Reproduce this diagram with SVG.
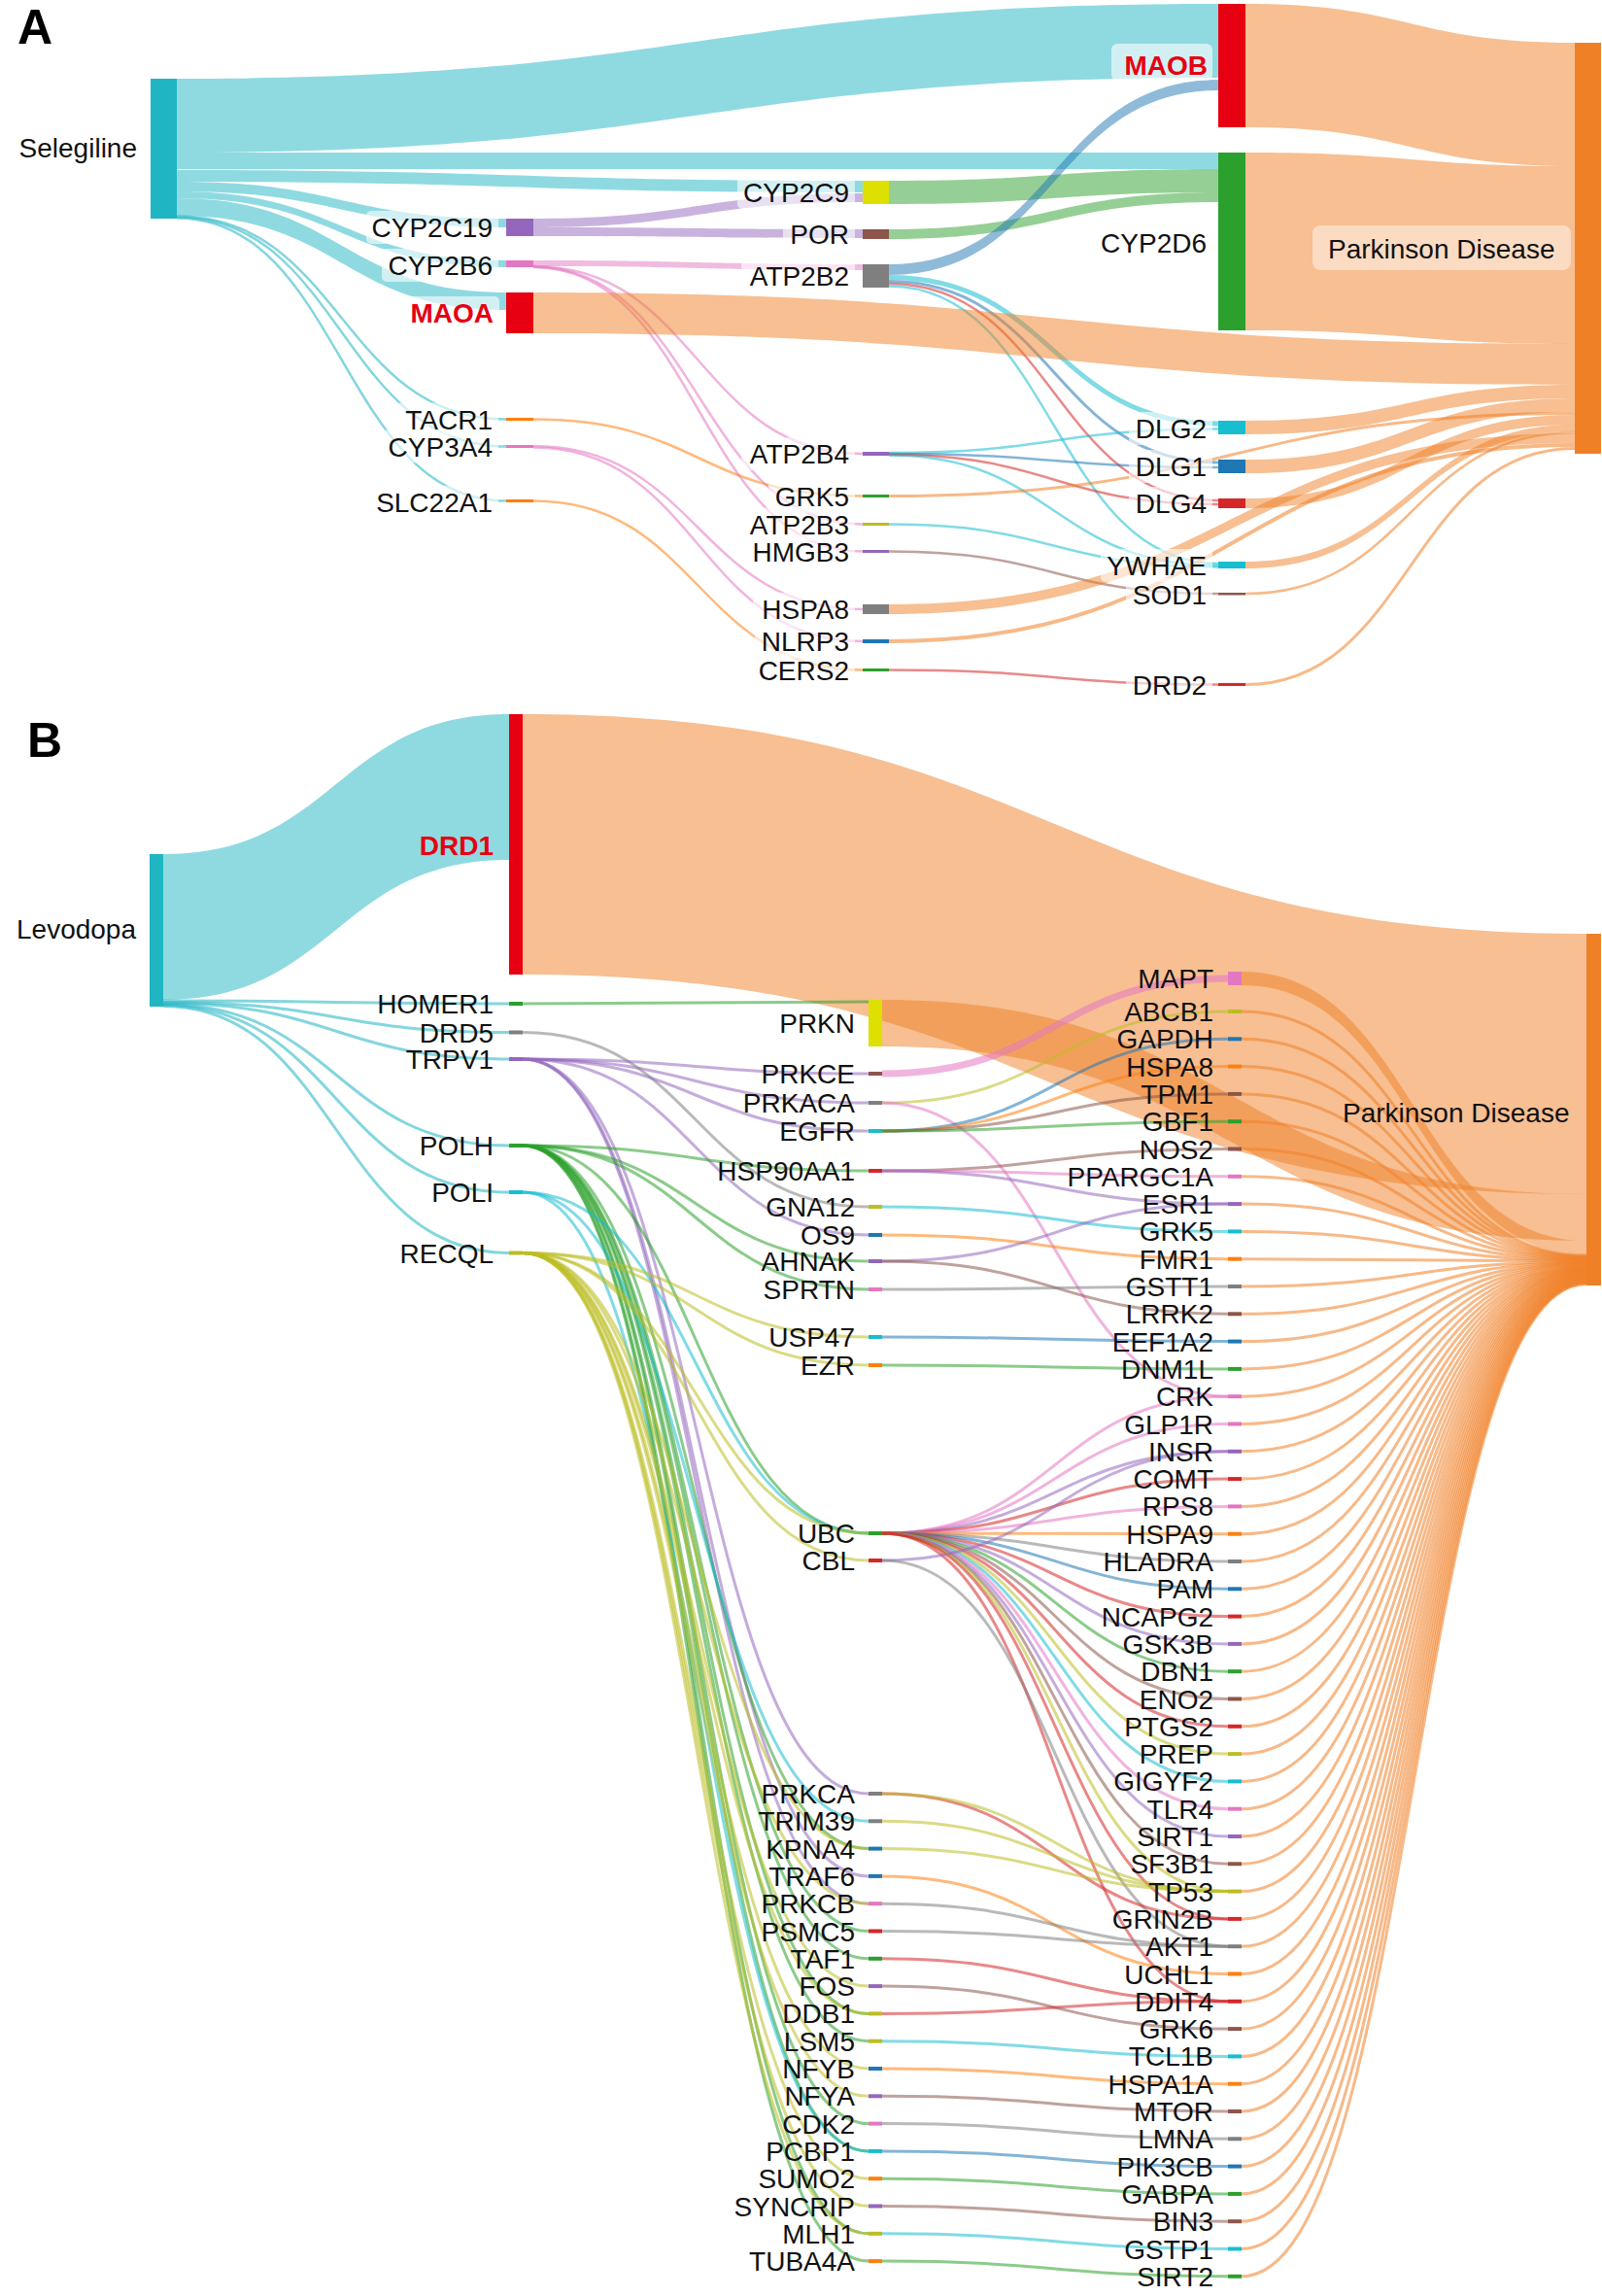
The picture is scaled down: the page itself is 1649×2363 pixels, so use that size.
<svg xmlns="http://www.w3.org/2000/svg" width="1649" height="2363" viewBox="0 0 1649 2363">
<style>
.lb{font-family:"Liberation Sans",Arial,sans-serif;font-size:28px;fill:#111;text-anchor:end}
.pdl{font-family:"Liberation Sans",Arial,sans-serif;font-size:28px;fill:#111}
.hl{fill:#e60012;font-weight:bold}
.ttl{font-family:"Liberation Sans",Arial,sans-serif;font-size:50px;font-weight:bold;fill:#000}
.bd{stroke:none;fill-opacity:.5}
.ln{fill:none;stroke-opacity:.55;stroke-width:3}
.w2{stroke-width:2.5}.w4{stroke-width:4}.w5{stroke-width:5}.w7{stroke-width:7}
.bg{fill:#fff;fill-opacity:.6}
.bgp{fill:#fff;fill-opacity:.45}
.ft{fill:#1fb5c3}.fhr{fill:#e60012}.fpd{fill:#f08026}.fb{fill:#1f77b4}.fo{fill:#ff7f0e}.fg{fill:#2ca02c}.fr{fill:#d62728}.fp{fill:#9467bd}.fn{fill:#8c564b}.fk{fill:#e377c2}.fy{fill:#7f7f7f}.fv{fill:#bcbd22}.fc{fill:#17becf}.fyl{fill:#dde000}
.st{stroke:#1fb5c3}.spd{stroke:#f08026}.sb{stroke:#1f77b4}.so{stroke:#ff7f0e}.sg{stroke:#2ca02c}.sr{stroke:#d62728}.sp{stroke:#9467bd}.sn{stroke:#8c564b}.sk{stroke:#e377c2}.sy{stroke:#7f7f7f}.sv{stroke:#bcbd22}.sc{stroke:#17becf}
</style>
<rect x="0" y="0" width="1649" height="2363" fill="#fff"/>
<text class="ttl" x="18" y="45">A</text>
<text class="ttl" x="28" y="779">B</text>

<g id="links-A">
<path class="bd ft" d="M182 81 C718 81 718 4 1254 4 L1254 80 C718 80 718 157 182 157 Z"/>
<path class="bd ft" d="M182 157 L1254 157 L1254 174 L182 174 Z"/>
<path class="bd ft" d="M182 175 C535 175 535 186 888 186 L888 198 C535 198 535 187 182 187 Z"/>
<path class="bd ft" d="M182 187 C351.5 187 351.5 225 521 225 L521 234 C351.5 234 351.5 197 182 197 Z"/>
<path class="bd ft" d="M182 197 C351.5 197 351.5 268 521 268 L521 275 C351.5 275 351.5 204 182 204 Z"/>
<path class="bd ft" d="M182 204 C351.5 204 351.5 301 521 301 L521 319 C351.5 319 351.5 222 182 222 Z"/>
<path class="ln st w2" d="M182 222.5 C351.5 222.5 351.5 431.5 521 431.5"/>
<path class="ln st w2" d="M182 223.5 C351.5 223.5 351.5 459.5 521 459.5"/>
<path class="ln st w2" d="M182 224.5 C351.5 224.5 351.5 515.5 521 515.5"/>
<path class="bd fp" d="M549 225 C718.5 225 718.5 199 888 199 L888 208 C718.5 208 718.5 234 549 234 Z"/>
<path class="bd fp" d="M549 234 C718.5 234 718.5 236 888 236 L888 245 C718.5 245 718.5 243 549 243 Z"/>
<path class="bd fk" d="M549 268 C718.5 268 718.5 272 888 272 L888 278 C718.5 278 718.5 274 549 274 Z"/>
<path class="ln sk w2" d="M549 274 C718.5 274 718.5 467 888 467"/>
<path class="ln sk w2" d="M549 274.5 C718.5 274.5 718.5 539.5 888 539.5"/>
<path class="ln sk w2" d="M549 275 C718.5 275 718.5 567.5 888 567.5"/>
<path class="ln sk w2" d="M549 459 C718.5 459 718.5 627 888 627"/>
<path class="ln sk w2" d="M549 460.5 C718.5 460.5 718.5 660 888 660"/>
<path class="ln so w2" d="M549 431.5 C718.5 431.5 718.5 510.5 888 510.5"/>
<path class="ln so w2" d="M549 515.5 C718.5 515.5 718.5 689.5 888 689.5"/>
<path class="bd fg" d="M915 186 C1084.5 186 1084.5 174 1254 174 L1254 198 C1084.5 198 1084.5 210 915 210 Z"/>
<path class="bd fg" d="M915 236 C1084.5 236 1084.5 198 1254 198 L1254 208 C1084.5 208 1084.5 246 915 246 Z"/>
<path class="bd fb" d="M915 272 C1084.5 272 1084.5 82 1254 82 L1254 93 C1084.5 93 1084.5 283 915 283 Z"/>
<path class="ln sc w5" d="M915 285.5 C1084.5 285.5 1084.5 436 1254 436"/>
<path class="ln sb" d="M915 289.5 C1084.5 289.5 1084.5 476 1254 476"/>
<path class="ln sr w2" d="M915 292 C1084.5 292 1084.5 515 1254 515"/>
<path class="ln sc w2" d="M915 294.5 C1084.5 294.5 1084.5 580 1254 580"/>
<path class="ln sc w2" d="M915 466 C1084.5 466 1084.5 441.5 1254 441.5"/>
<path class="ln sb w2" d="M915 467 C1084.5 467 1084.5 481 1254 481"/>
<path class="ln sr w2" d="M915 468 C1084.5 468 1084.5 519 1254 519"/>
<path class="ln sc w2" d="M915 468.5 C1084.5 468.5 1084.5 582 1254 582"/>
<path class="ln sc w2" d="M915 539.5 C1084.5 539.5 1084.5 583.5 1254 583.5"/>
<path class="ln sn w2" d="M915 567.5 C1084.5 567.5 1084.5 611 1254 611"/>
<path class="ln sr w2" d="M915 689.5 C1084.5 689.5 1084.5 704.5 1254 704.5"/>
<path class="bd fpd" d="M1282 4 C1451.5 4 1451.5 44 1621 44 L1621 171 C1451.5 171 1451.5 131 1282 131 Z"/>
<path class="bd fpd" d="M1282 157 C1451.5 157 1451.5 171 1621 171 L1621 354 C1451.5 354 1451.5 340 1282 340 Z"/>
<path class="bd fpd" d="M549 301 C1085 301 1085 354 1621 354 L1621 396 C1085 396 1085 343 549 343 Z"/>
<path class="bd fpd" d="M1282 433 C1451.5 433 1451.5 396 1621 396 L1621 410 C1451.5 410 1451.5 447 1282 447 Z"/>
<path class="bd fpd" d="M1282 473 C1451.5 473 1451.5 410 1621 410 L1621 424 C1451.5 424 1451.5 487 1282 487 Z"/>
<path class="ln spd" d="M915 510.5 C1268 510.5 1268 425.5 1621 425.5"/>
<path class="bd fpd" d="M1282 513 C1451.5 513 1451.5 427 1621 427 L1621 437 C1451.5 437 1451.5 523 1282 523 Z"/>
<path class="bd fpd" d="M1282 578 C1451.5 578 1451.5 437 1621 437 L1621 444 C1451.5 444 1451.5 585 1282 585 Z"/>
<path class="ln spd w2" d="M1282 611 C1451.5 611 1451.5 445 1621 445"/>
<path class="bd fpd" d="M915 622 C1268 622 1268 446 1621 446 L1621 456 C1268 456 1268 632 915 632 Z"/>
<path class="ln spd w4" d="M915 660 C1268 660 1268 458 1621 458"/>
<path class="ln spd" d="M1282 704.5 C1451.5 704.5 1451.5 461.5 1621 461.5"/>
</g>

<g id="links-B">
<path class="bd ft" d="M168 879 C346 879 346 735 524 735 L524 885 C346 885 346 1029 168 1029 Z"/>
<path class="ln st" d="M168 1030 C346 1030 346 1033 524 1033"/>
<path class="ln st" d="M168 1031.5 C346 1031.5 346 1062.5 524 1062.5"/>
<path class="ln st" d="M168 1032.5 C346 1032.5 346 1090 524 1090"/>
<path class="ln st" d="M168 1033.5 C346 1033.5 346 1179 524 1179"/>
<path class="ln st" d="M168 1034.5 C346 1034.5 346 1227 524 1227"/>
<path class="ln st" d="M168 1035.5 C346 1035.5 346 1289.5 524 1289.5"/>
<path class="bd fpd" d="M538 735 C1085.5 735 1085.5 961 1633 961 L1633 1229 C1085.5 1229 1085.5 1003 538 1003 Z"/>
<path class="bd fpd" d="M908 1029 C1270.5 1029 1270.5 1229 1633 1229 L1633 1277 C1270.5 1277 1270.5 1077 908 1077 Z"/>
<path class="bd fpd" d="M1278 1000 C1455.5 1000 1455.5 1277 1633 1277 L1633 1291 C1455.5 1291 1455.5 1014 1278 1014 Z"/>
<path class="ln sg" d="M538 1033 C716 1033 716 1031 894 1031"/>
<path class="ln sy" d="M538 1062.5 C716 1062.5 716 1242 894 1242"/>
<path class="ln sp" d="M538 1090 C716 1090 716 1105 894 1105"/>
<path class="ln sp" d="M538 1090 C716 1090 716 1135 894 1135"/>
<path class="ln sp" d="M538 1090 C716 1090 716 1164 894 1164"/>
<path class="ln sp" d="M538 1090 C716 1090 716 1271 894 1271"/>
<path class="ln sp" d="M538 1090 C716 1090 716 1846 894 1846"/>
<path class="ln sp" d="M538 1090 C716 1090 716 1930.9 894 1930.9"/>
<path class="ln sp" d="M538 1090 C716 1090 716 1959.2 894 1959.2"/>
<path class="ln sg" d="M538 1179 C716 1179 716 1205 894 1205"/>
<path class="ln sg" d="M538 1179 C716 1179 716 1298 894 1298"/>
<path class="ln sg" d="M538 1179 C716 1179 716 1327 894 1327"/>
<path class="ln sg" d="M538 1179 C716 1179 716 1578 894 1578"/>
<path class="ln sg" d="M538 1179 C716 1179 716 1902.6 894 1902.6"/>
<path class="ln sg" d="M538 1179 C716 1179 716 1987.5 894 1987.5"/>
<path class="ln sg" d="M538 1179 C716 1179 716 2015.8 894 2015.8"/>
<path class="ln sg" d="M538 1179 C716 1179 716 2072.4 894 2072.4"/>
<path class="ln sg" d="M538 1179 C716 1179 716 2100.7 894 2100.7"/>
<path class="ln sg" d="M538 1179 C716 1179 716 2185.6 894 2185.6"/>
<path class="ln sg" d="M538 1179 C716 1179 716 2213.9 894 2213.9"/>
<path class="ln sg" d="M538 1179 C716 1179 716 2298.8 894 2298.8"/>
<path class="ln sg" d="M538 1179 C716 1179 716 2327.1 894 2327.1"/>
<path class="ln sc" d="M538 1227 C716 1227 716 1578 894 1578"/>
<path class="ln sc" d="M538 1227 C716 1227 716 1874.3 894 1874.3"/>
<path class="ln sc" d="M538 1227 C716 1227 716 2213.9 894 2213.9"/>
<path class="ln sv" d="M538 1289.5 C716 1289.5 716 1376 894 1376"/>
<path class="ln sv" d="M538 1289.5 C716 1289.5 716 1405 894 1405"/>
<path class="ln sv" d="M538 1289.5 C716 1289.5 716 1578 894 1578"/>
<path class="ln sv" d="M538 1289.5 C716 1289.5 716 1606 894 1606"/>
<path class="ln sv" d="M538 1289.5 C716 1289.5 716 1902.6 894 1902.6"/>
<path class="ln sv" d="M538 1289.5 C716 1289.5 716 1959.2 894 1959.2"/>
<path class="ln sv" d="M538 1289.5 C716 1289.5 716 2044.1 894 2044.1"/>
<path class="ln sv" d="M538 1289.5 C716 1289.5 716 2072.4 894 2072.4"/>
<path class="ln sv" d="M538 1289.5 C716 1289.5 716 2129 894 2129"/>
<path class="ln sv" d="M538 1289.5 C716 1289.5 716 2157.3 894 2157.3"/>
<path class="ln sv" d="M538 1289.5 C716 1289.5 716 2242.2 894 2242.2"/>
<path class="ln sv" d="M538 1289.5 C716 1289.5 716 2270.5 894 2270.5"/>
<path class="ln sv" d="M538 1289.5 C716 1289.5 716 2298.8 894 2298.8"/>
<path class="ln sk w7" d="M908 1105 C1086 1105 1086 1007 1264 1007"/>
<path class="ln sv" d="M908 1135 C1086 1135 1086 1041 1264 1041"/>
<path class="ln sk" d="M908 1135 C1086 1135 1086 1437.2 1264 1437.2"/>
<path class="ln sb" d="M908 1164 C1086 1164 1086 1069.3 1264 1069.3"/>
<path class="ln so" d="M908 1164 C1086 1164 1086 1097.6 1264 1097.6"/>
<path class="ln sn" d="M908 1164 C1086 1164 1086 1125.9 1264 1125.9"/>
<path class="ln sg" d="M908 1164 C1086 1164 1086 1154.2 1264 1154.2"/>
<path class="ln sn" d="M908 1205 C1086 1205 1086 1182.5 1264 1182.5"/>
<path class="ln sk" d="M908 1205 C1086 1205 1086 1210.8 1264 1210.8"/>
<path class="ln sp" d="M908 1205 C1086 1205 1086 1239.1 1264 1239.1"/>
<path class="ln sc" d="M908 1242 C1086 1242 1086 1267.4 1264 1267.4"/>
<path class="ln so" d="M908 1271 C1086 1271 1086 1295.7 1264 1295.7"/>
<path class="ln sp" d="M908 1298 C1086 1298 1086 1239.1 1264 1239.1"/>
<path class="ln sn" d="M908 1298 C1086 1298 1086 1352.3 1264 1352.3"/>
<path class="ln sy" d="M908 1327 C1086 1327 1086 1324 1264 1324"/>
<path class="ln sb" d="M908 1376 C1086 1376 1086 1380.6 1264 1380.6"/>
<path class="ln sg" d="M908 1405 C1086 1405 1086 1408.9 1264 1408.9"/>
<path class="ln sk" d="M908 1578 C1086 1578 1086 1437.2 1264 1437.2"/>
<path class="ln sk" d="M908 1578 C1086 1578 1086 1465.5 1264 1465.5"/>
<path class="ln sp" d="M908 1578 C1086 1578 1086 1493.8 1264 1493.8"/>
<path class="ln sr" d="M908 1578 C1086 1578 1086 1522.1 1264 1522.1"/>
<path class="ln sk" d="M908 1578 C1086 1578 1086 1550.4 1264 1550.4"/>
<path class="ln so" d="M908 1578 C1086 1578 1086 1578.7 1264 1578.7"/>
<path class="ln sy" d="M908 1578 C1086 1578 1086 1607 1264 1607"/>
<path class="ln sb" d="M908 1578 C1086 1578 1086 1635.3 1264 1635.3"/>
<path class="ln sr" d="M908 1578 C1086 1578 1086 1663.6 1264 1663.6"/>
<path class="ln sp" d="M908 1578 C1086 1578 1086 1691.9 1264 1691.9"/>
<path class="ln sg" d="M908 1578 C1086 1578 1086 1720.2 1264 1720.2"/>
<path class="ln sn" d="M908 1578 C1086 1578 1086 1748.5 1264 1748.5"/>
<path class="ln sr" d="M908 1578 C1086 1578 1086 1776.8 1264 1776.8"/>
<path class="ln sv" d="M908 1578 C1086 1578 1086 1805.1 1264 1805.1"/>
<path class="ln sc" d="M908 1578 C1086 1578 1086 1833.4 1264 1833.4"/>
<path class="ln sk" d="M908 1578 C1086 1578 1086 1861.7 1264 1861.7"/>
<path class="ln sp" d="M908 1578 C1086 1578 1086 1890 1264 1890"/>
<path class="ln sn" d="M908 1578 C1086 1578 1086 1918.3 1264 1918.3"/>
<path class="ln sv" d="M908 1578 C1086 1578 1086 1946.6 1264 1946.6"/>
<path class="ln sr" d="M908 1578 C1086 1578 1086 1974.9 1264 1974.9"/>
<path class="ln sr" d="M908 1578 C1086 1578 1086 2059.8 1264 2059.8"/>
<path class="ln sp" d="M908 1606 C1086 1606 1086 1493.8 1264 1493.8"/>
<path class="ln sy" d="M908 1606 C1086 1606 1086 2003.2 1264 2003.2"/>
<path class="ln sr" d="M908 1846 C1086 1846 1086 1974.9 1264 1974.9"/>
<path class="ln sv" d="M908 1846 C1086 1846 1086 1946.6 1264 1946.6"/>
<path class="ln sv" d="M908 1874.3 C1086 1874.3 1086 1946.6 1264 1946.6"/>
<path class="ln sv" d="M908 1902.6 C1086 1902.6 1086 1946.6 1264 1946.6"/>
<path class="ln so" d="M908 1930.9 C1086 1930.9 1086 2031.5 1264 2031.5"/>
<path class="ln sy" d="M908 1959.2 C1086 1959.2 1086 2003.2 1264 2003.2"/>
<path class="ln sy" d="M908 1987.5 C1086 1987.5 1086 2003.2 1264 2003.2"/>
<path class="ln sr" d="M908 2015.8 C1086 2015.8 1086 2059.8 1264 2059.8"/>
<path class="ln sn" d="M908 2044.1 C1086 2044.1 1086 2088.1 1264 2088.1"/>
<path class="ln sr" d="M908 2072.4 C1086 2072.4 1086 2059.8 1264 2059.8"/>
<path class="ln sc" d="M908 2100.7 C1086 2100.7 1086 2116.4 1264 2116.4"/>
<path class="ln so" d="M908 2129 C1086 2129 1086 2144.7 1264 2144.7"/>
<path class="ln sn" d="M908 2157.3 C1086 2157.3 1086 2173 1264 2173"/>
<path class="ln sy" d="M908 2185.6 C1086 2185.6 1086 2201.3 1264 2201.3"/>
<path class="ln sb" d="M908 2213.9 C1086 2213.9 1086 2229.6 1264 2229.6"/>
<path class="ln sg" d="M908 2242.2 C1086 2242.2 1086 2257.9 1264 2257.9"/>
<path class="ln sn" d="M908 2270.5 C1086 2270.5 1086 2286.2 1264 2286.2"/>
<path class="ln sc" d="M908 2298.8 C1086 2298.8 1086 2314.5 1264 2314.5"/>
<path class="ln sg" d="M908 2327.1 C1086 2327.1 1086 2342.8 1264 2342.8"/>
<path class="ln spd" d="M1278 1041 C1455.5 1041 1455.5 1292 1633 1292"/>
<path class="ln spd" d="M1278 1069.3 C1455.5 1069.3 1455.5 1292.6 1633 1292.6"/>
<path class="ln spd" d="M1278 1097.6 C1455.5 1097.6 1455.5 1293.3 1633 1293.3"/>
<path class="ln spd" d="M1278 1125.9 C1455.5 1125.9 1455.5 1293.9 1633 1293.9"/>
<path class="ln spd" d="M1278 1154.2 C1455.5 1154.2 1455.5 1294.6 1633 1294.6"/>
<path class="ln spd" d="M1278 1182.5 C1455.5 1182.5 1455.5 1295.2 1633 1295.2"/>
<path class="ln spd" d="M1278 1210.8 C1455.5 1210.8 1455.5 1295.8 1633 1295.8"/>
<path class="ln spd" d="M1278 1239.1 C1455.5 1239.1 1455.5 1296.5 1633 1296.5"/>
<path class="ln spd" d="M1278 1267.4 C1455.5 1267.4 1455.5 1297.1 1633 1297.1"/>
<path class="ln spd" d="M1278 1295.7 C1455.5 1295.7 1455.5 1297.8 1633 1297.8"/>
<path class="ln spd" d="M1278 1324 C1455.5 1324 1455.5 1298.4 1633 1298.4"/>
<path class="ln spd" d="M1278 1352.3 C1455.5 1352.3 1455.5 1299 1633 1299"/>
<path class="ln spd" d="M1278 1380.6 C1455.5 1380.6 1455.5 1299.7 1633 1299.7"/>
<path class="ln spd" d="M1278 1408.9 C1455.5 1408.9 1455.5 1300.3 1633 1300.3"/>
<path class="ln spd" d="M1278 1437.2 C1455.5 1437.2 1455.5 1301 1633 1301"/>
<path class="ln spd" d="M1278 1465.5 C1455.5 1465.5 1455.5 1301.6 1633 1301.6"/>
<path class="ln spd" d="M1278 1493.8 C1455.5 1493.8 1455.5 1302.2 1633 1302.2"/>
<path class="ln spd" d="M1278 1522.1 C1455.5 1522.1 1455.5 1302.9 1633 1302.9"/>
<path class="ln spd" d="M1278 1550.4 C1455.5 1550.4 1455.5 1303.5 1633 1303.5"/>
<path class="ln spd" d="M1278 1578.7 C1455.5 1578.7 1455.5 1304.2 1633 1304.2"/>
<path class="ln spd" d="M1278 1607 C1455.5 1607 1455.5 1304.8 1633 1304.8"/>
<path class="ln spd" d="M1278 1635.3 C1455.5 1635.3 1455.5 1305.4 1633 1305.4"/>
<path class="ln spd" d="M1278 1663.6 C1455.5 1663.6 1455.5 1306.1 1633 1306.1"/>
<path class="ln spd" d="M1278 1691.9 C1455.5 1691.9 1455.5 1306.7 1633 1306.7"/>
<path class="ln spd" d="M1278 1720.2 C1455.5 1720.2 1455.5 1307.4 1633 1307.4"/>
<path class="ln spd" d="M1278 1748.5 C1455.5 1748.5 1455.5 1308 1633 1308"/>
<path class="ln spd" d="M1278 1776.8 C1455.5 1776.8 1455.5 1308.6 1633 1308.6"/>
<path class="ln spd" d="M1278 1805.1 C1455.5 1805.1 1455.5 1309.3 1633 1309.3"/>
<path class="ln spd" d="M1278 1833.4 C1455.5 1833.4 1455.5 1309.9 1633 1309.9"/>
<path class="ln spd" d="M1278 1861.7 C1455.5 1861.7 1455.5 1310.6 1633 1310.6"/>
<path class="ln spd" d="M1278 1890 C1455.5 1890 1455.5 1311.2 1633 1311.2"/>
<path class="ln spd" d="M1278 1918.3 C1455.5 1918.3 1455.5 1311.8 1633 1311.8"/>
<path class="ln spd" d="M1278 1946.6 C1455.5 1946.6 1455.5 1312.5 1633 1312.5"/>
<path class="ln spd" d="M1278 1974.9 C1455.5 1974.9 1455.5 1313.1 1633 1313.1"/>
<path class="ln spd" d="M1278 2003.2 C1455.5 2003.2 1455.5 1313.8 1633 1313.8"/>
<path class="ln spd" d="M1278 2031.5 C1455.5 2031.5 1455.5 1314.4 1633 1314.4"/>
<path class="ln spd" d="M1278 2059.8 C1455.5 2059.8 1455.5 1315 1633 1315"/>
<path class="ln spd" d="M1278 2088.1 C1455.5 2088.1 1455.5 1315.7 1633 1315.7"/>
<path class="ln spd" d="M1278 2116.4 C1455.5 2116.4 1455.5 1316.3 1633 1316.3"/>
<path class="ln spd" d="M1278 2144.7 C1455.5 2144.7 1455.5 1317 1633 1317"/>
<path class="ln spd" d="M1278 2173 C1455.5 2173 1455.5 1317.6 1633 1317.6"/>
<path class="ln spd" d="M1278 2201.3 C1455.5 2201.3 1455.5 1318.2 1633 1318.2"/>
<path class="ln spd" d="M1278 2229.6 C1455.5 2229.6 1455.5 1318.9 1633 1318.9"/>
<path class="ln spd" d="M1278 2257.9 C1455.5 2257.9 1455.5 1319.5 1633 1319.5"/>
<path class="ln spd" d="M1278 2286.2 C1455.5 2286.2 1455.5 1320.2 1633 1320.2"/>
<path class="ln spd" d="M1278 2314.5 C1455.5 2314.5 1455.5 1320.8 1633 1320.8"/>
<path class="ln spd" d="M1278 2342.8 C1455.5 2342.8 1455.5 1321.4 1633 1321.4"/>
</g>

<g id="nodes-A">
<g id="a-Selegiline"><rect class="ft" x="155" y="81" width="27" height="144"/><text class="lb" x="141" y="162">Selegiline</text></g>
<g id="a-CYP2C19"><rect class="bg" x="377" y="217" width="136" height="34" rx="5"/><rect class="fp" x="521" y="225" width="28" height="18"/><text class="lb" x="507" y="244">CYP2C19</text></g>
<g id="a-CYP2B6"><rect class="bg" x="393" y="256" width="120" height="34" rx="5"/><rect class="fk" x="521" y="268" width="28" height="7"/><text class="lb" x="507" y="283">CYP2B6</text></g>
<g id="a-MAOA"><rect class="bg" x="416" y="305" width="98" height="34" rx="5"/><rect class="fhr" x="521" y="301" width="28" height="42"/><text class="lb hl" x="508" y="332">MAOA</text></g>
<g id="a-TACR1"><rect class="bg" x="408" y="414.5" width="105" height="34" rx="5"/><rect class="fo" x="521" y="430" width="28" height="3"/><text class="lb" x="507" y="441.5">TACR1</text></g>
<g id="a-CYP3A4"><rect class="bg" x="393" y="442.5" width="120" height="34" rx="5"/><rect class="fk" x="521" y="458" width="28" height="3"/><text class="lb" x="507" y="469.5">CYP3A4</text></g>
<g id="a-SLC22A1"><rect class="bg" x="381" y="499.5" width="132" height="34" rx="5"/><rect class="fo" x="521" y="514" width="28" height="3"/><text class="lb" x="507" y="526.5">SLC22A1</text></g>
<g id="a-CYP2C9"><rect class="bg" x="759" y="181" width="121" height="34" rx="5"/><rect class="fyl" x="888" y="186" width="27" height="24"/><text class="lb" x="874" y="208">CYP2C9</text></g>
<g id="a-POR"><rect class="bg" x="806" y="224" width="74" height="34" rx="5"/><rect class="fn" x="888" y="236" width="27" height="10"/><text class="lb" x="874" y="251">POR</text></g>
<g id="a-ATP2B2"><rect class="bg" x="763" y="267" width="117" height="34" rx="5"/><rect class="fy" x="888" y="272" width="27" height="24"/><text class="lb" x="874" y="294">ATP2B2</text></g>
<g id="a-ATP2B4"><rect class="bg" x="763" y="450" width="117" height="34" rx="5"/><rect class="fp" x="888" y="465" width="27" height="4"/><text class="lb" x="874" y="477">ATP2B4</text></g>
<g id="a-GRK5"><rect class="bg" x="791" y="493.5" width="89" height="34" rx="5"/><rect class="fg" x="888" y="509" width="27" height="3"/><text class="lb" x="874" y="520.5">GRK5</text></g>
<g id="a-ATP2B3"><rect class="bg" x="763" y="522.5" width="117" height="34" rx="5"/><rect class="fv" x="888" y="538" width="27" height="3"/><text class="lb" x="874" y="549.5">ATP2B3</text></g>
<g id="a-HMGB3"><rect class="bg" x="768" y="550.5" width="112" height="34" rx="5"/><rect class="fp" x="888" y="566" width="27" height="3"/><text class="lb" x="874" y="577.5">HMGB3</text></g>
<g id="a-HSPA8"><rect class="bg" x="775" y="610" width="105" height="34" rx="5"/><rect class="fy" x="888" y="622" width="27" height="10"/><text class="lb" x="874" y="637">HSPA8</text></g>
<g id="a-NLRP3"><rect class="bg" x="777" y="643" width="103" height="34" rx="5"/><rect class="fb" x="888" y="658" width="27" height="4"/><text class="lb" x="874" y="670">NLRP3</text></g>
<g id="a-CERS2"><rect class="bg" x="774" y="672.5" width="106" height="34" rx="5"/><rect class="fg" x="888" y="688" width="27" height="3"/><text class="lb" x="874" y="699.5">CERS2</text></g>
<g id="a-MAOB"><rect class="bg" x="1144" y="45" width="104" height="38" rx="6"/><rect class="fhr" x="1254" y="4" width="28" height="127"/><text class="lb hl" x="1243" y="77">MAOB</text></g>
<g id="a-CYP2D6"><rect class="fg" x="1254" y="157" width="28" height="183"/><text class="lb" x="1242" y="260">CYP2D6</text></g>
<g id="a-DLG2"><rect class="bg" x="1162" y="424" width="86" height="34" rx="5"/><rect class="fc" x="1254" y="433" width="28" height="14"/><text class="lb" x="1242" y="451">DLG2</text></g>
<g id="a-DLG1"><rect class="bg" x="1162" y="463" width="86" height="34" rx="5"/><rect class="fb" x="1254" y="473" width="28" height="14"/><text class="lb" x="1242" y="490">DLG1</text></g>
<g id="a-DLG4"><rect class="bg" x="1162" y="501" width="86" height="34" rx="5"/><rect class="fr" x="1254" y="513" width="28" height="10"/><text class="lb" x="1242" y="528">DLG4</text></g>
<g id="a-YWHAE"><rect class="bg" x="1133" y="565" width="115" height="34" rx="5"/><rect class="fc" x="1254" y="578" width="28" height="7"/><text class="lb" x="1242" y="592">YWHAE</text></g>
<g id="a-SOD1"><rect class="bg" x="1159" y="595" width="89" height="34" rx="5"/><rect class="fn" x="1254" y="610" width="28" height="2.5"/><text class="lb" x="1242" y="622">SOD1</text></g>
<g id="a-DRD2"><rect class="bg" x="1159" y="688" width="89" height="34" rx="5"/><rect class="fr" x="1254" y="703" width="28" height="3"/><text class="lb" x="1242" y="715">DRD2</text></g>
<g id="a-PD"><rect class="fpd" x="1621" y="44" width="27" height="423"/><rect class="bgp" x="1351" y="232" width="266" height="46" rx="8"/><text class="pdl" x="1367" y="266">Parkinson Disease</text></g>
</g>

<g id="nodes-B">
<g id="b-Levodopa"><rect class="ft" x="154" y="879" width="14" height="157"/><text class="lb" x="140" y="966">Levodopa</text></g>
<g id="b-DRD1"><rect class="fhr" x="524" y="735" width="14" height="268"/><text class="lb hl" x="508" y="880">DRD1</text></g>
<g id="b-HOMER1"><rect class="fg" x="524" y="1031" width="14" height="4"/><text class="lb" x="508" y="1043">HOMER1</text></g>
<g id="b-DRD5"><rect class="fy" x="524" y="1060.5" width="14" height="4"/><text class="lb" x="508" y="1072.5">DRD5</text></g>
<g id="b-TRPV1"><rect class="fp" x="524" y="1088" width="14" height="4"/><text class="lb" x="508" y="1100">TRPV1</text></g>
<g id="b-POLH"><rect class="fg" x="524" y="1177" width="14" height="4"/><text class="lb" x="508" y="1189">POLH</text></g>
<g id="b-POLI"><rect class="fc" x="524" y="1225" width="14" height="4"/><text class="lb" x="508" y="1237">POLI</text></g>
<g id="b-RECQL"><rect class="fv" x="524" y="1287.5" width="14" height="4"/><text class="lb" x="508" y="1299.5">RECQL</text></g>
<g id="b-PRKN"><rect class="fyl" x="894" y="1029" width="14" height="48"/><text class="lb" x="880" y="1063">PRKN</text></g>
<g id="b-PRKCE"><rect class="fn" x="894" y="1103" width="14" height="4"/><text class="lb" x="880" y="1115">PRKCE</text></g>
<g id="b-PRKACA"><rect class="fy" x="894" y="1133" width="14" height="4"/><text class="lb" x="880" y="1145">PRKACA</text></g>
<g id="b-EGFR"><rect class="fc" x="894" y="1162" width="14" height="4"/><text class="lb" x="880" y="1174">EGFR</text></g>
<g id="b-HSP90AA1"><rect class="fr" x="894" y="1203" width="14" height="4"/><text class="lb" x="880" y="1215">HSP90AA1</text></g>
<g id="b-GNA12"><rect class="fv" x="894" y="1240" width="14" height="4"/><text class="lb" x="880" y="1252">GNA12</text></g>
<g id="b-OS9"><rect class="fb" x="894" y="1269" width="14" height="4"/><text class="lb" x="880" y="1281">OS9</text></g>
<g id="b-AHNAK"><rect class="fp" x="894" y="1296" width="14" height="4"/><text class="lb" x="880" y="1308">AHNAK</text></g>
<g id="b-SPRTN"><rect class="fk" x="894" y="1325" width="14" height="4"/><text class="lb" x="880" y="1337">SPRTN</text></g>
<g id="b-USP47"><rect class="fc" x="894" y="1374" width="14" height="4"/><text class="lb" x="880" y="1386">USP47</text></g>
<g id="b-EZR"><rect class="fo" x="894" y="1403" width="14" height="4"/><text class="lb" x="880" y="1415">EZR</text></g>
<g id="b-UBC"><rect class="fg" x="894" y="1576" width="14" height="4"/><text class="lb" x="880" y="1588">UBC</text></g>
<g id="b-CBL"><rect class="fr" x="894" y="1604" width="14" height="4"/><text class="lb" x="880" y="1616">CBL</text></g>
<g id="b-PRKCA"><rect class="fy" x="894" y="1844" width="14" height="4"/><text class="lb" x="880" y="1856">PRKCA</text></g>
<g id="b-TRIM39"><rect class="fy" x="894" y="1872.3" width="14" height="4"/><text class="lb" x="880" y="1884.3">TRIM39</text></g>
<g id="b-KPNA4"><rect class="fb" x="894" y="1900.6" width="14" height="4"/><text class="lb" x="880" y="1912.6">KPNA4</text></g>
<g id="b-TRAF6"><rect class="fb" x="894" y="1928.9" width="14" height="4"/><text class="lb" x="880" y="1940.9">TRAF6</text></g>
<g id="b-PRKCB"><rect class="fk" x="894" y="1957.2" width="14" height="4"/><text class="lb" x="880" y="1969.2">PRKCB</text></g>
<g id="b-PSMC5"><rect class="fr" x="894" y="1985.5" width="14" height="4"/><text class="lb" x="880" y="1997.5">PSMC5</text></g>
<g id="b-TAF1"><rect class="fg" x="894" y="2013.8" width="14" height="4"/><text class="lb" x="880" y="2025.8">TAF1</text></g>
<g id="b-FOS"><rect class="fp" x="894" y="2042.1" width="14" height="4"/><text class="lb" x="880" y="2054.1">FOS</text></g>
<g id="b-DDB1"><rect class="fv" x="894" y="2070.4" width="14" height="4"/><text class="lb" x="880" y="2082.4">DDB1</text></g>
<g id="b-LSM5"><rect class="fv" x="894" y="2098.7" width="14" height="4"/><text class="lb" x="880" y="2110.7">LSM5</text></g>
<g id="b-NFYB"><rect class="fb" x="894" y="2127" width="14" height="4"/><text class="lb" x="880" y="2139">NFYB</text></g>
<g id="b-NFYA"><rect class="fp" x="894" y="2155.3" width="14" height="4"/><text class="lb" x="880" y="2167.3">NFYA</text></g>
<g id="b-CDK2"><rect class="fk" x="894" y="2183.6" width="14" height="4"/><text class="lb" x="880" y="2195.6">CDK2</text></g>
<g id="b-PCBP1"><rect class="fc" x="894" y="2211.9" width="14" height="4"/><text class="lb" x="880" y="2223.9">PCBP1</text></g>
<g id="b-SUMO2"><rect class="fo" x="894" y="2240.2" width="14" height="4"/><text class="lb" x="880" y="2252.2">SUMO2</text></g>
<g id="b-SYNCRIP"><rect class="fp" x="894" y="2268.5" width="14" height="4"/><text class="lb" x="880" y="2280.5">SYNCRIP</text></g>
<g id="b-MLH1"><rect class="fv" x="894" y="2296.8" width="14" height="4"/><text class="lb" x="880" y="2308.8">MLH1</text></g>
<g id="b-TUBA4A"><rect class="fo" x="894" y="2325.1" width="14" height="4"/><text class="lb" x="880" y="2337.1">TUBA4A</text></g>
<g id="b-MAPT"><rect class="fk" x="1264" y="1000" width="14" height="14"/><text class="lb" x="1249" y="1017">MAPT</text></g>
<g id="b-ABCB1"><rect class="fv" x="1264" y="1039" width="14" height="4"/><text class="lb" x="1249" y="1051">ABCB1</text></g>
<g id="b-GAPDH"><rect class="fb" x="1264" y="1067.3" width="14" height="4"/><text class="lb" x="1249" y="1079.3">GAPDH</text></g>
<g id="b-HSPA8"><rect class="fo" x="1264" y="1095.6" width="14" height="4"/><text class="lb" x="1249" y="1107.6">HSPA8</text></g>
<g id="b-TPM1"><rect class="fn" x="1264" y="1123.9" width="14" height="4"/><text class="lb" x="1249" y="1135.9">TPM1</text></g>
<g id="b-GBF1"><rect class="fg" x="1264" y="1152.2" width="14" height="4"/><text class="lb" x="1249" y="1164.2">GBF1</text></g>
<g id="b-NOS2"><rect class="fn" x="1264" y="1180.5" width="14" height="4"/><text class="lb" x="1249" y="1192.5">NOS2</text></g>
<g id="b-PPARGC1A"><rect class="fk" x="1264" y="1208.8" width="14" height="4"/><text class="lb" x="1249" y="1220.8">PPARGC1A</text></g>
<g id="b-ESR1"><rect class="fp" x="1264" y="1237.1" width="14" height="4"/><text class="lb" x="1249" y="1249.1">ESR1</text></g>
<g id="b-GRK5"><rect class="fc" x="1264" y="1265.4" width="14" height="4"/><text class="lb" x="1249" y="1277.4">GRK5</text></g>
<g id="b-FMR1"><rect class="fo" x="1264" y="1293.7" width="14" height="4"/><text class="lb" x="1249" y="1305.7">FMR1</text></g>
<g id="b-GSTT1"><rect class="fy" x="1264" y="1322" width="14" height="4"/><text class="lb" x="1249" y="1334">GSTT1</text></g>
<g id="b-LRRK2"><rect class="fn" x="1264" y="1350.3" width="14" height="4"/><text class="lb" x="1249" y="1362.3">LRRK2</text></g>
<g id="b-EEF1A2"><rect class="fb" x="1264" y="1378.6" width="14" height="4"/><text class="lb" x="1249" y="1390.6">EEF1A2</text></g>
<g id="b-DNM1L"><rect class="fg" x="1264" y="1406.9" width="14" height="4"/><text class="lb" x="1249" y="1418.9">DNM1L</text></g>
<g id="b-CRK"><rect class="fk" x="1264" y="1435.2" width="14" height="4"/><text class="lb" x="1249" y="1447.2">CRK</text></g>
<g id="b-GLP1R"><rect class="fk" x="1264" y="1463.5" width="14" height="4"/><text class="lb" x="1249" y="1475.5">GLP1R</text></g>
<g id="b-INSR"><rect class="fp" x="1264" y="1491.8" width="14" height="4"/><text class="lb" x="1249" y="1503.8">INSR</text></g>
<g id="b-COMT"><rect class="fr" x="1264" y="1520.1" width="14" height="4"/><text class="lb" x="1249" y="1532.1">COMT</text></g>
<g id="b-RPS8"><rect class="fk" x="1264" y="1548.4" width="14" height="4"/><text class="lb" x="1249" y="1560.4">RPS8</text></g>
<g id="b-HSPA9"><rect class="fo" x="1264" y="1576.7" width="14" height="4"/><text class="lb" x="1249" y="1588.7">HSPA9</text></g>
<g id="b-HLADRA"><rect class="fy" x="1264" y="1605" width="14" height="4"/><text class="lb" x="1249" y="1617">HLADRA</text></g>
<g id="b-PAM"><rect class="fb" x="1264" y="1633.3" width="14" height="4"/><text class="lb" x="1249" y="1645.3">PAM</text></g>
<g id="b-NCAPG2"><rect class="fr" x="1264" y="1661.6" width="14" height="4"/><text class="lb" x="1249" y="1673.6">NCAPG2</text></g>
<g id="b-GSK3B"><rect class="fp" x="1264" y="1689.9" width="14" height="4"/><text class="lb" x="1249" y="1701.9">GSK3B</text></g>
<g id="b-DBN1"><rect class="fg" x="1264" y="1718.2" width="14" height="4"/><text class="lb" x="1249" y="1730.2">DBN1</text></g>
<g id="b-ENO2"><rect class="fn" x="1264" y="1746.5" width="14" height="4"/><text class="lb" x="1249" y="1758.5">ENO2</text></g>
<g id="b-PTGS2"><rect class="fr" x="1264" y="1774.8" width="14" height="4"/><text class="lb" x="1249" y="1786.8">PTGS2</text></g>
<g id="b-PREP"><rect class="fv" x="1264" y="1803.1" width="14" height="4"/><text class="lb" x="1249" y="1815.1">PREP</text></g>
<g id="b-GIGYF2"><rect class="fc" x="1264" y="1831.4" width="14" height="4"/><text class="lb" x="1249" y="1843.4">GIGYF2</text></g>
<g id="b-TLR4"><rect class="fk" x="1264" y="1859.7" width="14" height="4"/><text class="lb" x="1249" y="1871.7">TLR4</text></g>
<g id="b-SIRT1"><rect class="fp" x="1264" y="1888" width="14" height="4"/><text class="lb" x="1249" y="1900">SIRT1</text></g>
<g id="b-SF3B1"><rect class="fn" x="1264" y="1916.3" width="14" height="4"/><text class="lb" x="1249" y="1928.3">SF3B1</text></g>
<g id="b-TP53"><rect class="fv" x="1264" y="1944.6" width="14" height="4"/><text class="lb" x="1249" y="1956.6">TP53</text></g>
<g id="b-GRIN2B"><rect class="fr" x="1264" y="1972.9" width="14" height="4"/><text class="lb" x="1249" y="1984.9">GRIN2B</text></g>
<g id="b-AKT1"><rect class="fy" x="1264" y="2001.2" width="14" height="4"/><text class="lb" x="1249" y="2013.2">AKT1</text></g>
<g id="b-UCHL1"><rect class="fo" x="1264" y="2029.5" width="14" height="4"/><text class="lb" x="1249" y="2041.5">UCHL1</text></g>
<g id="b-DDIT4"><rect class="fr" x="1264" y="2057.8" width="14" height="4"/><text class="lb" x="1249" y="2069.8">DDIT4</text></g>
<g id="b-GRK6"><rect class="fn" x="1264" y="2086.1" width="14" height="4"/><text class="lb" x="1249" y="2098.1">GRK6</text></g>
<g id="b-TCL1B"><rect class="fc" x="1264" y="2114.4" width="14" height="4"/><text class="lb" x="1249" y="2126.4">TCL1B</text></g>
<g id="b-HSPA1A"><rect class="fo" x="1264" y="2142.7" width="14" height="4"/><text class="lb" x="1249" y="2154.7">HSPA1A</text></g>
<g id="b-MTOR"><rect class="fn" x="1264" y="2171" width="14" height="4"/><text class="lb" x="1249" y="2183">MTOR</text></g>
<g id="b-LMNA"><rect class="fy" x="1264" y="2199.3" width="14" height="4"/><text class="lb" x="1249" y="2211.3">LMNA</text></g>
<g id="b-PIK3CB"><rect class="fb" x="1264" y="2227.6" width="14" height="4"/><text class="lb" x="1249" y="2239.6">PIK3CB</text></g>
<g id="b-GABPA"><rect class="fg" x="1264" y="2255.9" width="14" height="4"/><text class="lb" x="1249" y="2267.9">GABPA</text></g>
<g id="b-BIN3"><rect class="fn" x="1264" y="2284.2" width="14" height="4"/><text class="lb" x="1249" y="2296.2">BIN3</text></g>
<g id="b-GSTP1"><rect class="fc" x="1264" y="2312.5" width="14" height="4"/><text class="lb" x="1249" y="2324.5">GSTP1</text></g>
<g id="b-SIRT2"><rect class="fg" x="1264" y="2340.8" width="14" height="4"/><text class="lb" x="1249" y="2352.8">SIRT2</text></g>
<g id="b-PD"><rect class="fpd" x="1633" y="961" width="15" height="362"/><text class="pdl" x="1382" y="1155">Parkinson Disease</text></g>
</g>
</svg>
